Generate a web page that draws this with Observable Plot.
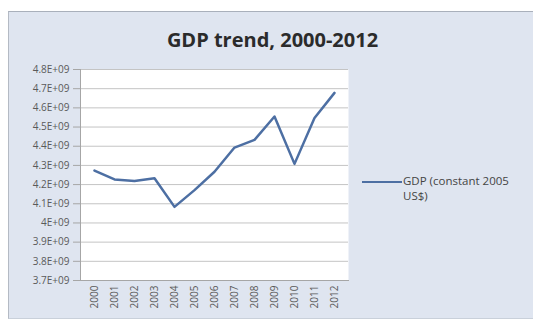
<!DOCTYPE html>
<html>
<head>
<meta charset="utf-8">
<script src="https://cdn.jsdelivr.net/npm/d3@7"></script>
<script src="https://cdn.jsdelivr.net/npm/@observablehq/plot@0.6"></script>
<style>
  html, body { margin: 0; padding: 0; background: #ffffff; }
  #wrap { position: relative; width: 533px; height: 323px; overflow: hidden; background: #ffffff; font-family: "Open Sans", "DejaVu Sans", sans-serif; }
  #frame { position: absolute; left: 8px; top: 11px; width: 530px; height: 306px; background: #dfe5f0; border-top: 1px solid #a9b0bb; border-left: 1px solid #b4bac4; border-bottom: 1px solid #c9d0da; }
  #title { position: absolute; left: 0; width: 533px; top: 26px; text-align: center; font-weight: bold; font-size: 20px; color: #2b2b2b; padding-left: 12px; box-sizing: border-box; }
  #chart { position: absolute; left: 0; top: 0; }
  #legend { position: absolute; left: 362px; top: 173px; font-size: 11.5px; color: #444; line-height: 15px; }
  #legend .sw { position: absolute; left: 0; top: 8px; width: 40px; height: 0; border-top: 2.5px solid #4d6fa3; }
  #legend .tx { position: absolute; left: 41px; top: 0; white-space: nowrap; }
</style>
</head>
<body>
<div id="wrap">
  <div id="frame"></div>
  <div id="title">GDP trend, 2000-2012</div>
  <div id="chart"></div>
  <div id="legend"><div class="sw"></div><div class="tx">GDP (constant 2005<br>US$)</div></div>
</div>
<script>
const years = ["2000","2001","2002","2003","2004","2005","2006","2007","2008","2009","2010","2011","2012"];
const gdp = [4.273e9, 4.227e9, 4.219e9, 4.233e9, 4.084e9, 4.171e9, 4.267e9, 4.393e9, 4.433e9, 4.555e9, 4.308e9, 4.547e9, 4.678e9];
const yTicks = [3.7e9, 3.8e9, 3.9e9, 4.0e9, 4.1e9, 4.2e9, 4.3e9, 4.4e9, 4.5e9, 4.6e9, 4.7e9, 4.8e9];

const data = years.map((y, i) => ({year: y, value: gdp[i]}));
const fmt = d => (d / 1e9).toString() + "E+09";

const plot = Plot.plot({
  width: 533,
  height: 323,
  marginLeft: 80,
  marginRight: 185,
  marginTop: 69,
  marginBottom: 43,
  style: {background: "transparent", fontFamily: "'Open Sans', 'DejaVu Sans', sans-serif"},
  x: {type: "point", domain: years, padding: 0.5, align: 0.5, label: null},
  y: {domain: [3.7e9, 4.8e9], label: null},
  marks: [
    Plot.frame({fill: "#ffffff", stroke: "none"}),
    Plot.gridY(yTicks, {stroke: "#c4c4c4", strokeOpacity: 1, strokeWidth: 1}),
    Plot.axisY({ticks: yTicks, tickFormat: fmt, tickSize: 7, tickPadding: 4, stroke: "#a6a6a6", fill: "#5a5a5a", fontSize: 10}),
    Plot.axisX({tickSize: 0, tickPadding: 5, tickRotate: -90, fill: "#5a5a5a", fontSize: 10}),
    Plot.frame({anchor: "left", stroke: "#a6a6a6"}),
    Plot.frame({anchor: "bottom", stroke: "#a6a6a6"}),
    Plot.line(data, {x: "year", y: "value", stroke: "#4d6fa3", strokeWidth: 2.5, strokeLinejoin: "round"})
  ]
});
document.getElementById("chart").appendChild(plot);
</script>
</body>
</html>
